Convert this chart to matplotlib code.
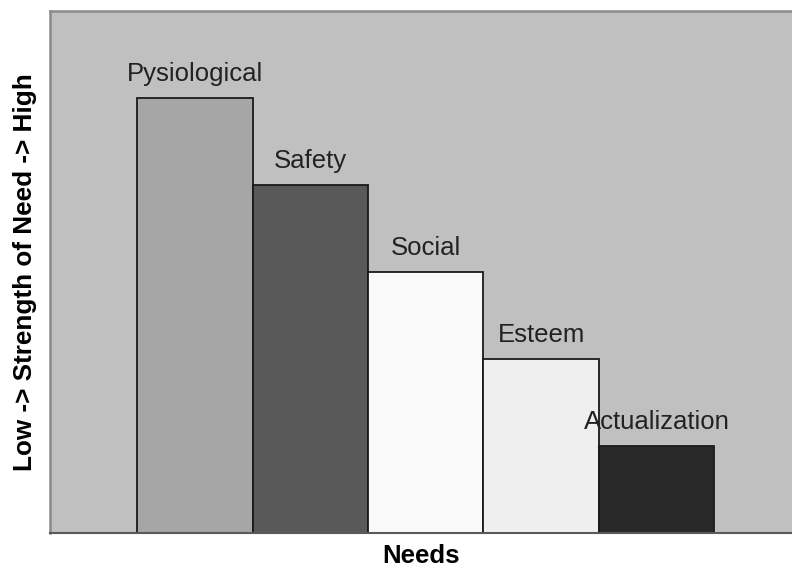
import matplotlib.pyplot as plt

# Maslow's hierarchy as a simple descending bar chart
needs = ["Pysiological", "Safety", "Social", "Esteem", "Actualization"]
strength = [5, 4, 3, 2, 1]
bar_colors = ["#a6a6a6", "#595959", "#f9f9f9", "#efefef", "#292929"]

plt.rcParams["font.family"] = ["Liberation Sans", "DejaVu Sans"]

fig = plt.figure(figsize=(7.92, 5.70), dpi=100)
ax = fig.add_axes([50 / 792, 37 / 570, 742 / 792, 522 / 570])
ax.set_facecolor("#c0c0c0")

x = list(range(len(needs)))
bars = ax.bar(x, strength, width=1.0, color=bar_colors,
              edgecolor="#1a1a1a", linewidth=1.3, zorder=2)

for xi, val, name in zip(x, strength, needs):
    ax.annotate(name, (xi, val), xytext=(0, 12), textcoords="offset points",
                ha="center", va="baseline", fontsize=18.5, color="#222222",
                zorder=3)

ax.set_xlim(-1.257, 5.174)
ax.set_ylim(0, 6)
ax.set_xticks([])
ax.set_yticks([])

for side in ("top", "left"):
    ax.spines[side].set_color("#8a8a8a")
    ax.spines[side].set_linewidth(1.8)
ax.spines["right"].set_visible(False)
ax.spines["bottom"].set_color("#5a5a5a")
ax.spines["bottom"].set_linewidth(1.5)

ax.set_xlabel("Needs", fontsize=18.5, fontweight="bold", labelpad=8)
ax.set_ylabel("Low -> Strength of Need -> High", fontsize=18.8,
              fontweight="bold", labelpad=9)

fig.savefig("out.png", dpi=100)
